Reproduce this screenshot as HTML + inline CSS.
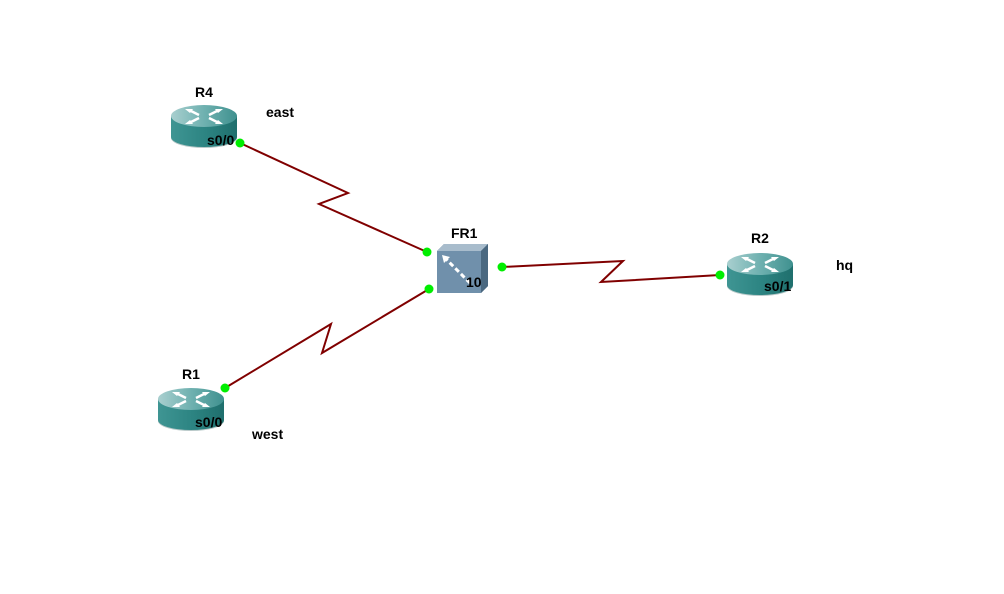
<!DOCTYPE html>
<html><head><meta charset="utf-8"><style>
html,body{margin:0;padding:0;background:#fff;}
svg{display:block;}
text{font-family:"Liberation Sans","DejaVu Sans",sans-serif;font-weight:bold;font-size:14px;fill:#000;}
</style></head><body>
<svg width="1004" height="594" viewBox="0 0 1004 594" xmlns="http://www.w3.org/2000/svg">
<defs>
<linearGradient id="tg" x1="0" y1="0" x2="1" y2="0">
<stop offset="0" stop-color="#a9cfcf"/><stop offset="0.5" stop-color="#6fb1b0"/><stop offset="1" stop-color="#3f918f"/>
</linearGradient>
<linearGradient id="bg" x1="0" y1="0" x2="1" y2="0">
<stop offset="0" stop-color="#3f9593"/><stop offset="0.5" stop-color="#2d8583"/><stop offset="1" stop-color="#1f6f6d"/>
</linearGradient>
<g id="rt">
<ellipse cx="33" cy="34" rx="33" ry="10" fill="#b9c9c9"/>
<path d="M0 12 L0 33 A33 10 0 0 0 66 33 L66 12 Z" fill="url(#bg)"/>
<ellipse cx="33" cy="12" rx="33" ry="11" fill="url(#tg)"/>
<g fill="none" stroke="#fff" stroke-width="2.5">
<path d="M18 6 L28 11 M38 11 L48 6 M18 19 L28 14 M38 14 L48 19"/>
</g>
<g fill="#fff">
<path d="M14 5 L22 5 L19 9 Z"/><path d="M52 5 L44 5 L47 9 Z"/>
<path d="M14 20 L22 20 L19 16 Z"/><path d="M52 20 L44 20 L47 16 Z"/>
</g>
</g>
</defs>
<g stroke="#800000" stroke-width="2" fill="none">
<polyline points="240,143 348,193 319,204 427,252"/>
<polyline points="225,388 331,324 322,353 429,289"/>
<polyline points="502,267 623,261 601,282 720,275"/>
</g>
<use href="#rt" x="171" y="104"/>
<use href="#rt" x="158" y="387"/>
<use href="#rt" x="727" y="252"/>
<path d="M444 244 L488 244 L488 286 L481 293 L437 293 L437 251 Z" fill="#5d7c96"/>
<path d="M437 251 L444 244 L488 244 L481 251 Z" fill="#a8bccc"/>
<path d="M481 251 L488 244 L488 286 L481 293 Z" fill="#4a6880"/>
<rect x="437" y="251" width="44" height="42" fill="#7090ab"/>
<path d="M444 257 L470 283" stroke="#fff" stroke-width="3" stroke-dasharray="5,3"/>
<path d="M442 255 L450 257 L444 263 Z" fill="#fff"/>
<text x="466" y="287" font-size="13">10</text>
<g fill="#00ee00">
<circle cx="240" cy="143" r="4.5"/><circle cx="427" cy="252" r="4.5"/>
<circle cx="225" cy="388" r="4.5"/><circle cx="429" cy="289" r="4.5"/>
<circle cx="502" cy="267" r="4.5"/><circle cx="720" cy="275" r="4.5"/>
</g>
<text x="195" y="97">R4</text>
<text x="266" y="117">east</text>
<text x="207" y="145">s0/0</text>
<text x="451" y="238">FR1</text>
<text x="751" y="243">R2</text>
<text x="836" y="270">hq</text>
<text x="764" y="291">s0/1</text>
<text x="182" y="379">R1</text>
<text x="195" y="427">s0/0</text>
<text x="252" y="439">west</text>
</svg>
</body></html>
